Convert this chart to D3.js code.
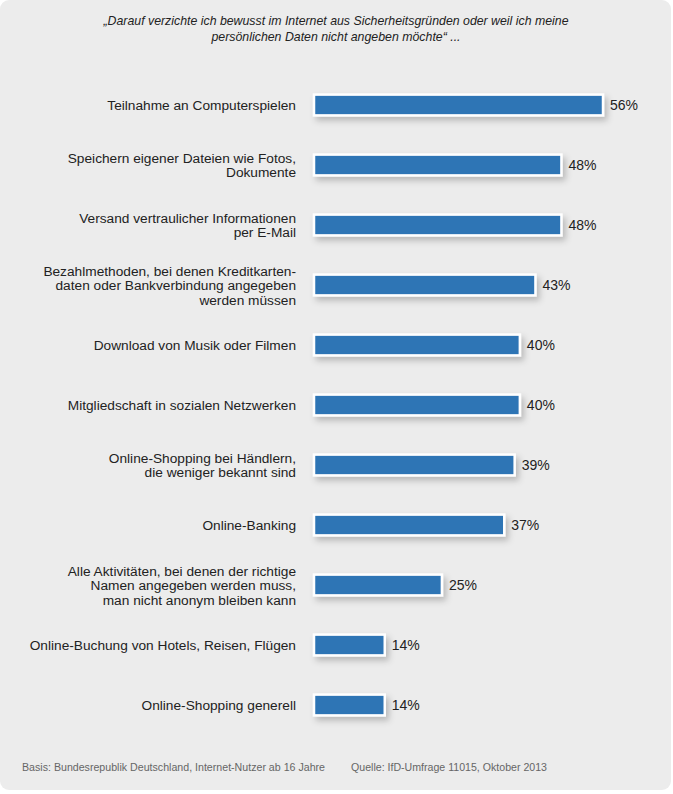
<!DOCTYPE html>
<html><head><meta charset="utf-8">
<script src="https://cdn.jsdelivr.net/npm/d3@7"></script>
<style>
html,body{margin:0;padding:0;background:#fff;}
svg{display:block;font-family:"Liberation Sans",Arial,sans-serif;}
</style></head>
<body>
<svg id="chart" width="673" height="794"></svg>
<script>
const categories = [
  ["Teilnahme an Computerspielen"],
  ["Speichern eigener Dateien wie Fotos,", "Dokumente"],
  ["Versand vertraulicher Informationen", "per E-Mail"],
  ["Bezahlmethoden, bei denen Kreditkarten-", "daten oder Bankverbindung angegeben", "werden müssen"],
  ["Download von Musik oder Filmen"],
  ["Mitgliedschaft in sozialen Netzwerken"],
  ["Online-Shopping bei Händlern,", "die weniger bekannt sind"],
  ["Online-Banking"],
  ["Alle Aktivitäten, bei denen der richtige", "Namen angegeben werden muss,", "man nicht anonym bleiben kann"],
  ["Online-Buchung von Hotels, Reisen, Flügen"],
  ["Online-Shopping generell"]
];
const values = [56, 48, 48, 43, 40, 40, 39, 37, 25, 14, 14];
const titleLines = ["„Darauf verzichte ich bewusst im Internet aus Sicherheitsgründen oder weil ich meine", "persönlichen Daten nicht angeben möchte“  ..."];
const footerBasis = "Basis: Bundesrepublik Deutschland, Internet-Nutzer ab 16 Jahre";
const footerQuelle = "Quelle: IfD-Umfrage 11015, Oktober 2013";

const svg = d3.select("#chart");
const defs = svg.append("defs");
const f = defs.append("filter").attr("id","sh").attr("x","-10%").attr("y","-30%").attr("width","130%").attr("height","200%");
f.append("feDropShadow").attr("dx",3).attr("dy",4).attr("stdDeviation",3).attr("flood-color","#000").attr("flood-opacity",0.22);

svg.append("rect").attr("x",0).attr("y",0).attr("width",671).attr("height",790).attr("rx",9).attr("fill","#ececec");

svg.append("g").selectAll("text").data(titleLines).join("text")
  .attr("x",336).attr("y",(d,i)=>25+i*16)
  .attr("text-anchor","middle").attr("font-style","italic").attr("font-size",12.2)
  .attr("fill","#222").attr("textLength",(d,i)=>i===0?465:249).attr("lengthAdjust","spacingAndGlyphs")
  .text(d=>d);

const x = d3.scaleLinear().domain([0,56]).range([313,604]);
const y = d3.scaleBand().domain(d3.range(categories.length)).range([75,735]).paddingInner(0.62).paddingOuter(0.31);

const g = svg.append("g");
const rows = g.selectAll("g.row").data(values).join("g").attr("class","row");

rows.append("rect")
  .attr("x",x(0)+1).attr("y",(d,i)=>y(i)+1)
  .attr("width",d=>x(d)-x(0)-2).attr("height",y.bandwidth()-2)
  .attr("fill","#2e74b5").attr("stroke","#fff").attr("stroke-width",2.5)
  .attr("filter","url(#sh)");

rows.append("text")
  .attr("x",d=>x(d)+6).attr("y",(d,i)=>y(i)+y.bandwidth()/2+5)
  .attr("font-size",14).attr("fill","#222").text(d=>d+"%");

const labels = g.selectAll("text.lab").data(categories).join("text").attr("class","lab")
  .attr("text-anchor","end").attr("font-size",13.7).attr("fill","#222");
labels.each(function(lines,i){
  const cy = y(i)+y.bandwidth()/2;
  const lh = 14.5;
  const y0 = cy - (lines.length-1)*lh/2 + 5;
  d3.select(this).selectAll("tspan").data(lines).join("tspan")
    .attr("x",296).attr("y",(d,j)=>y0+j*lh).text(d=>d);
});

svg.append("text").attr("x",22).attr("y",771).attr("font-size",10).attr("fill","#666")
  .attr("textLength",303).attr("lengthAdjust","spacingAndGlyphs").text(footerBasis);
svg.append("text").attr("x",351).attr("y",771).attr("font-size",10).attr("fill","#666")
  .attr("textLength",196).attr("lengthAdjust","spacingAndGlyphs").text(footerQuelle);
</script>
</body></html>
